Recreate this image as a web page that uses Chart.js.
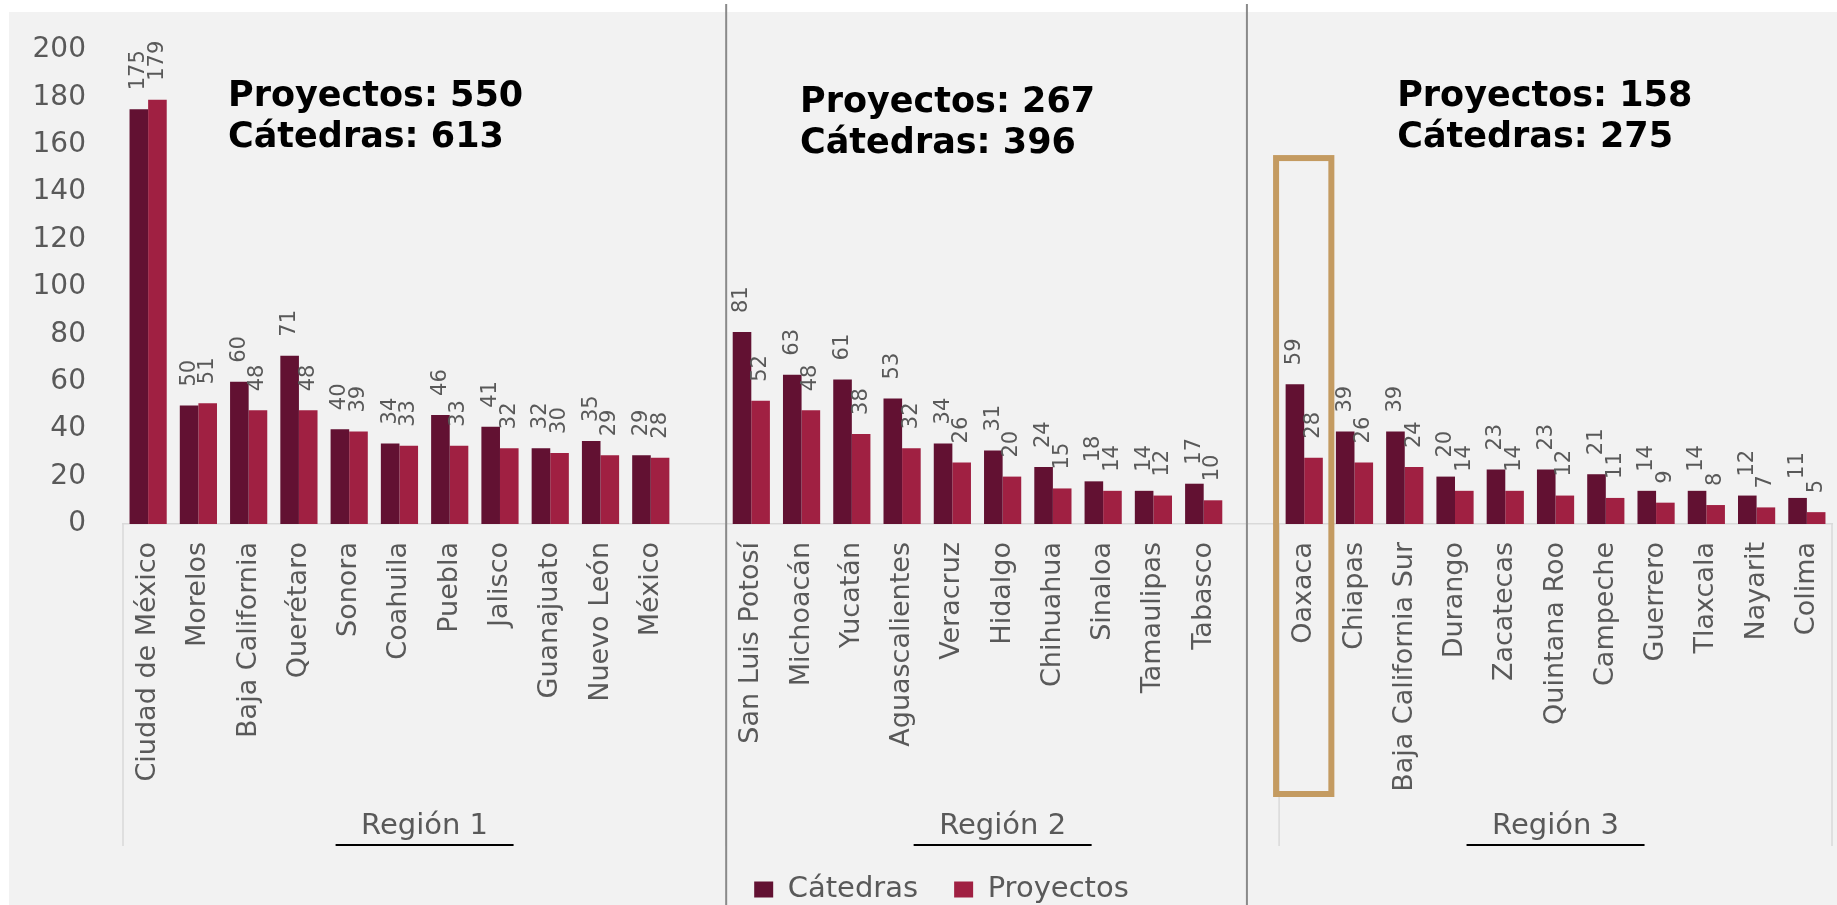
<!DOCTYPE html>
<html lang="es">
<head>
<meta charset="utf-8">
<title>Cátedras y Proyectos por región</title>
<script src="https://cdn.jsdelivr.net/npm/chart.js@4.4.1/dist/chart.umd.min.js"></script>
<style>
  html, body { margin: 0; padding: 0; background: #fff; }
  #wrap { position: relative; width: 1837px; height: 905px; }
</style>
</head>
<body>
<div id="wrap"><canvas id="regiones" width="1837" height="905"></canvas></div>
<script>
// Región 1
var region1States = ["Ciudad de México", "Morelos", "Baja California", "Querétaro", "Sonora",
  "Coahuila", "Puebla", "Jalisco", "Guanajuato", "Nuevo León", "México"];
var region1Catedras = [175, 50, 60, 71, 40, 34, 46, 41, 32, 35, 29];
var region1Proyectos = [179, 51, 48, 48, 39, 33, 33, 32, 30, 29, 28];

// Región 2
var region2States = ["San Luis Potosí", "Michoacán", "Yucatán", "Aguascalientes", "Veracruz",
  "Hidalgo", "Chihuahua", "Sinaloa", "Tamaulipas", "Tabasco"];
var region2Catedras = [81, 63, 61, 53, 34, 31, 24, 18, 14, 17];
var region2Proyectos = [52, 48, 38, 32, 26, 20, 15, 14, 12, 10];

// Región 3
var region3States = ["Oaxaca", "Chiapas", "Baja California Sur", "Durango", "Zacatecas",
  "Quintana Roo", "Campeche", "Guerrero", "Tlaxcala", "Nayarit", "Colima"];
var region3Catedras = [59, 39, 39, 20, 23, 23, 21, 14, 14, 12, 11];
var region3Proyectos = [28, 26, 24, 14, 14, 12, 11, 9, 8, 7, 5];

var regionNames = ["Región 1", "Región 2", "Región 3"];
var seriesNames = ["Cátedras", "Proyectos"];
var yMax = 200;
var yStep = 20;
var highlightState = "Oaxaca";

// where the totals text sits: slot offset from the left of the axis, and y value of first line
var summaryPos = [
  { slot: 2.09, value: 180 },
  { slot: 13.47, value: 177.8 },
  { slot: 25.35, value: 180 }
];

function sum(arr) {
  return arr.reduce(function (a, b) { return a + b; }, 0);
}

// one long category axis, with an empty slot after region 1 and region 2
var groups = [
  [region1States, region1Catedras, region1Proyectos],
  [region2States, region2Catedras, region2Proyectos],
  [region3States, region3Catedras, region3Proyectos]
];
var labels = [], catedras = [], proyectos = [], spans = [];
groups.forEach(function (g, i) {
  var start = labels.length;
  labels = labels.concat(g[0]);
  catedras = catedras.concat(g[1]);
  proyectos = proyectos.concat(g[2]);
  if (i < groups.length - 1) {
    labels.push("");
    catedras.push(null);
    proyectos.push(null);
  }
  spans.push({
    name: regionNames[i],
    start: start,
    end: labels.length,
    catedras: sum(g[1]),
    proyectos: sum(g[2])
  });
});

var fontFamily = "'DejaVu Sans', 'Noto Sans', sans-serif";
var grey = "#595959";

var fondo = {
  id: "fondo",
  beforeDraw: function (chart) {
    var ctx = chart.ctx;
    ctx.save();
    ctx.fillStyle = "#ffffff";
    ctx.fillRect(0, 0, chart.width, chart.height);
    ctx.fillStyle = "#f2f2f2";
    ctx.fillRect(9, 12, chart.width - 9, chart.height - 12);
    ctx.restore();
  }
};

// legend sits a bit right of the canvas centre and a little lower
var moverLeyenda = {
  id: "moverLeyenda",
  afterLayout: function (chart) {
    var lg = chart.legend;
    if (!lg) return;
    lg.left += 13;
    lg.right += 13;
    lg.top += 9;
    lg.bottom += 9;
  }
};

// values written vertically above each bar
var etiquetas = {
  id: "etiquetas",
  afterDatasetsDraw: function (chart) {
    var ctx = chart.ctx;
    ctx.save();
    ctx.fillStyle = grey;
    ctx.font = "21px " + fontFamily;
    ctx.textAlign = "left";
    ctx.textBaseline = "middle";
    chart.data.datasets.forEach(function (ds, i) {
      chart.getDatasetMeta(i).data.forEach(function (bar, j) {
        var v = ds.data[j];
        if (v === null || v === undefined) return;
        ctx.save();
        ctx.translate(bar.x, bar.y - 19);
        ctx.rotate(-Math.PI / 2);
        ctx.fillText(String(v), 0, 0);
        ctx.restore();
      });
    });
    ctx.restore();
  }
};

var regiones = {
  id: "regiones",
  afterDraw: function (chart) {
    var ctx = chart.ctx;
    var x = chart.scales.x, y = chart.scales.y;
    var slot = x.width / labels.length;
    var base = y.getPixelForValue(0);
    ctx.save();

    // light lines that close each region group
    ctx.strokeStyle = "#d9d9d9";
    ctx.lineWidth = 1.5;
    var edges = spans.map(function (s) { return x.left + s.start * slot; });
    edges.push(x.right);
    edges.forEach(function (ex) {
      ctx.beginPath();
      ctx.moveTo(ex, base);
      ctx.lineTo(ex, base + 322);
      ctx.stroke();
    });

    // region names with underline
    spans.forEach(function (s) {
      var cx = x.left + (s.start + s.end) / 2 * slot;
      ctx.fillStyle = grey;
      ctx.font = "29px " + fontFamily;
      ctx.textAlign = "center";
      ctx.textBaseline = "middle";
      ctx.fillText(s.name, cx, base + 302);
      ctx.strokeStyle = "#000000";
      ctx.lineWidth = 2;
      ctx.beginPath();
      ctx.moveTo(cx - 89, base + 321);
      ctx.lineTo(cx + 89, base + 321);
      ctx.stroke();
    });

    // totals per region
    ctx.fillStyle = "#000000";
    ctx.font = "bold 35px " + fontFamily;
    ctx.textAlign = "left";
    ctx.textBaseline = "middle";
    spans.forEach(function (s, i) {
      var tx = x.left + summaryPos[i].slot * slot;
      var ty = y.getPixelForValue(summaryPos[i].value);
      ctx.fillText(seriesNames[1] + ": " + s.proyectos, tx, ty);
      ctx.fillText(seriesNames[0] + ": " + s.catedras, tx, ty + 41);
    });

    // dark separators between the panels
    ctx.strokeStyle = "#8a8a8a";
    ctx.lineWidth = 2;
    [spans[1].start, spans[2].start - 0.64].forEach(function (p) {
      var sx = x.left + p * slot;
      ctx.beginPath();
      ctx.moveTo(sx, 4);
      ctx.lineTo(sx, chart.height);
      ctx.stroke();
    });

    // highlight box
    var hi = labels.indexOf(highlightState);
    var hx = x.getPixelForValue(hi);
    var top = y.getPixelForValue(154.4);
    ctx.strokeStyle = "#c49b61";
    ctx.lineWidth = 6;
    ctx.strokeRect(hx - 0.56 * slot, top, 1.1 * slot, base + 270 - top);
    ctx.restore();
  }
};

new Chart(document.getElementById("regiones"), {
  type: "bar",
  data: {
    labels: labels,
    datasets: [
      {
        label: seriesNames[0],
        data: catedras,
        backgroundColor: "#621132",
        categoryPercentage: 0.74,
        barPercentage: 1
      },
      {
        label: seriesNames[1],
        data: proyectos,
        backgroundColor: "#a02042",
        categoryPercentage: 0.74,
        barPercentage: 1
      }
    ]
  },
  options: {
    responsive: false,
    animation: false,
    layout: { padding: { top: 50, left: 25, right: 5, bottom: 0 } },
    plugins: {
      tooltip: { enabled: false },
      legend: {
        position: "bottom",
        labels: {
          boxWidth: 19,
          boxHeight: 16,
          padding: 36,
          color: grey,
          font: { family: fontFamily, size: 29 }
        }
      }
    },
    scales: {
      x: {
        grid: { display: false, drawTicks: false },
        border: { display: true, color: "#d9d9d9", width: 1.5 },
        ticks: {
          autoSkip: false,
          minRotation: 90,
          maxRotation: 90,
          padding: 18,
          color: grey,
          font: { family: fontFamily, size: 27 }
        },
        afterFit: function (scale) {
          scale.height = 306;
          scale.paddingLeft = 0;
          scale.paddingRight = 0;
        }
      },
      y: {
        min: 0,
        max: yMax,
        grid: { display: false },
        border: { display: false },
        ticks: {
          stepSize: yStep,
          padding: 29,
          color: grey,
          font: { family: fontFamily, size: 28 }
        },
        afterFit: function (scale) { scale.width = 98; }
      }
    }
  },
  plugins: [fondo, moverLeyenda, etiquetas, regiones]
});
</script>
</body>
</html>
